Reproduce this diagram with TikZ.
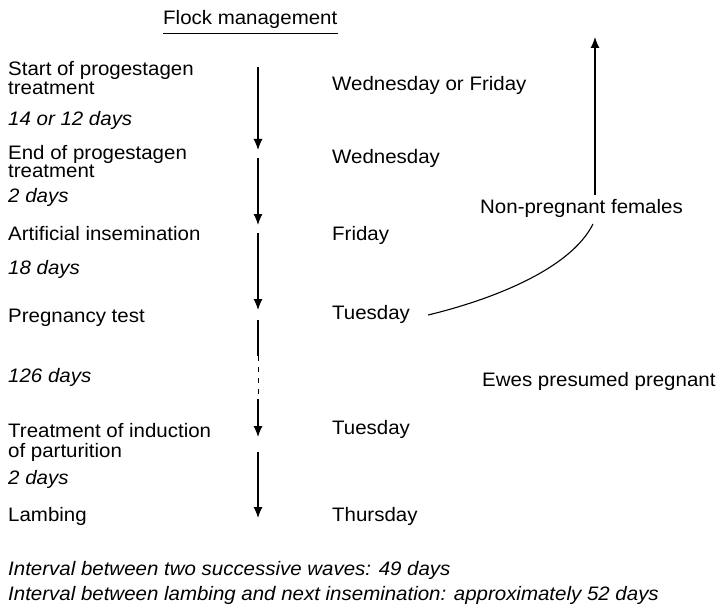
\documentclass[tikz,border=0pt]{standalone}
\usepackage{fontspec}
\setmainfont{Liberation Sans}[FakeStretch=1.05]
\usetikzlibrary{arrows.meta}
\begin{document}
\begin{tikzpicture}[x=1pt,y=-1pt,
  lab/.style={anchor=base west,inner sep=0pt,font=\fontsize{19.5}{23}\selectfont},
  dur/.style={anchor=base west,inner sep=0pt,font=\fontsize{19.5}{23}\selectfont\itshape},
  line/.style={line width=1.1pt},
  flow/.style={line width=1.1pt,-{Latex[length=11pt,width=9pt]}},
  ]
\useasboundingbox (0,0) rectangle (723,615);
% title
\node[lab] (title) at (163,25) {Flock management};
\draw[line width=0.8pt] ([yshift=-8pt]title.base west) -- ([yshift=-8pt]title.base east);
% left column
\node[lab] (l1a) at (8,76) {Start of progestagen};
\node[lab] (l1b) at (8,95) {treatment};
\node[dur] (d1) at (8,126) {14 or 12 days};
\node[lab] (l2a) at (8,160) {End of progestagen};
\node[lab] (l2b) at (8,178) {treatment};
\node[dur] (d2) at (8,202) {2 days};
\node[lab] (l3) at (8,240) {Artificial insemination};
\node[dur] (d3) at (8,274) {18 days};
\node[lab] (l4) at (8,322) {Pregnancy test};
\node[dur] (d4) at (8,382) {126 days};
\node[lab] (l5a) at (8,437) {Treatment of induction};
\node[lab] (l5b) at (8,457) {of parturition};
\node[dur] (d5) at (8,484) {2 days};
\node[lab] (l6) at (8,521) {Lambing};
% right column
\node[lab] (r1) at (332,91) {Wednesday or Friday};
\node[lab] (r2) at (332,164) {Wednesday};
\node[lab] (r3) at (332,240) {Friday};
\node[lab] (r4) at (332,319) {Tuesday};
\node[lab] (r5) at (332,434) {Tuesday};
\node[lab] (r6) at (332,521) {Thursday};
% far right
\node[lab] (np) at (480,213) {Non-pregnant females};
\node[lab] (ewes) at (482,386) {Ewes presumed pregnant};
% footnotes
\node[dur] (f1) at (8,575) {Interval between two successive waves: 49 days};
\node[dur] (f2) at (8,600) {Interval between lambing and next insemination: approximately 52 days};
% arrow column
\coordinate (c1s) at (258,67);  \coordinate (c1e) at (258,150);
\coordinate (c2s) at (258,158); \coordinate (c2e) at (258,225);
\coordinate (c3s) at (258,233); \coordinate (c3e) at (258,310);
\coordinate (c4s) at (258,320); \coordinate (c4a) at (258,356);
\coordinate (c4b) at (258,399); \coordinate (c4e) at (258,437);
\coordinate (c5s) at (258,452); \coordinate (c5e) at (258,518);
\draw[flow] (c1s) -- (c1e);
\draw[flow] (c2s) -- (c2e);
\draw[flow] (c3s) -- (c3e);
\draw[line] (c4s) -- (c4a);
\draw[line width=0.9pt,dash pattern=on 5pt off 6pt] (c4a) -- (c4b);
\draw[flow] (c4b) -- (c4e);
\draw[flow] (c5s) -- (c5e);
% curve and up arrow
\coordinate (ct0) at ([xshift=18pt,yshift=4pt]r4.base east);
\coordinate (ct1) at ([xshift=113pt,yshift=-11pt]np.base west);
\draw[line] (ct0) .. controls (490,300) and (570,270) .. (ct1);
\coordinate (up0) at ([xshift=115pt,yshift=18pt]np.base west);
\coordinate (up1) at (595,37);
\draw[flow] (up0) -- (up1);
\end{tikzpicture}
\end{document}
